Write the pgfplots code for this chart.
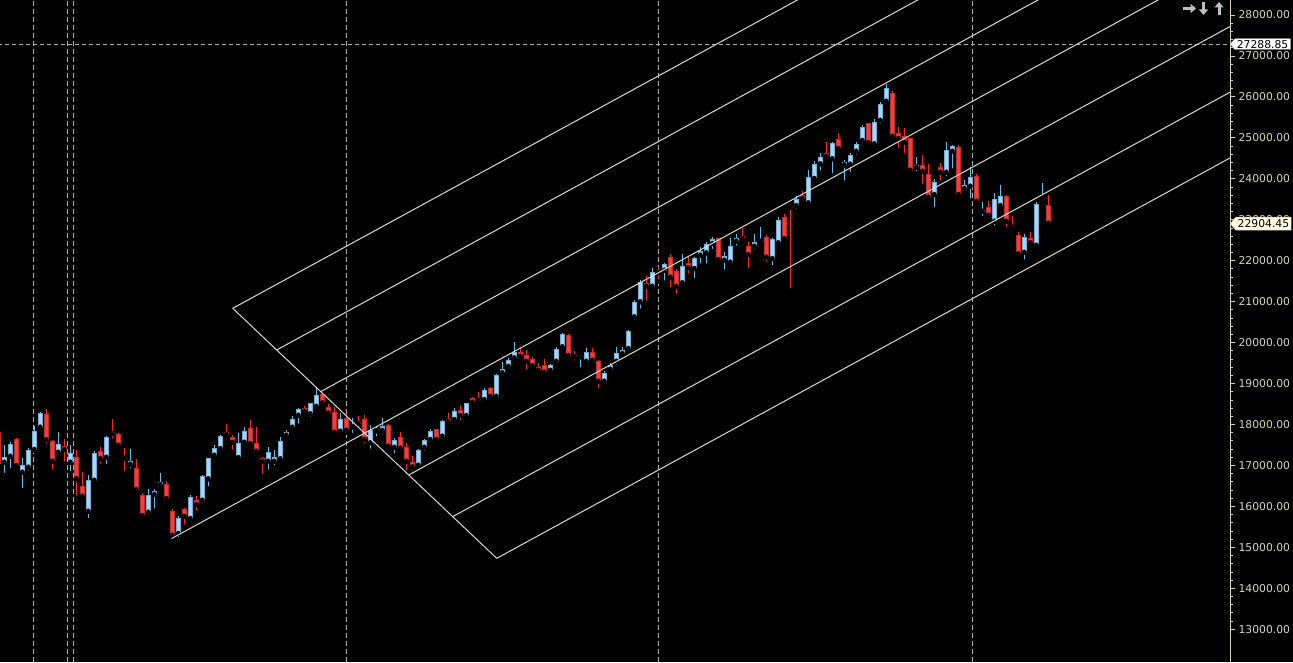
\documentclass[border=0pt]{standalone}
\usepackage{fontspec}
\setmainfont{DejaVu Sans}
\usepackage{pgfplots}
\usepackage{pgfplotstable}
\pgfplotsset{compat=1.18}
\usetikzlibrary{shapes.symbols,arrows.meta}
\definecolor{bullfill}{RGB}{170,214,238}
\definecolor{bulledge}{RGB}{112,172,212}
\definecolor{bullwick}{RGB}{100,190,240}
\definecolor{bearfill}{RGB}{232,66,66}
\definecolor{bearedge}{RGB}{205,40,40}
\definecolor{bearwick}{RGB}{255,40,40}
\definecolor{axiscol}{RGB}{215,213,175}
\definecolor{chan}{RGB}{218,218,208}
\definecolor{dashcol}{RGB}{175,175,175}
\definecolor{cream}{RGB}{255,255,228}
\definecolor{arrowgray}{RGB}{190,190,190}

\pgfplotstableread{
i o h l c
1 17067 17499 16766 17213
2 17213 17580 16889 17524
4 16823 17174 16400 17011
5 16945 17418 16823 17377
6 17377 17963 17360 17841
7 17922 18312 17865 18288
10 17311 17824 17255 17524
12 17067 17499 16808 17296
15 15870 16766 15668 16644
16 16627 17353 16564 17296
18 17189 17719 16986 17694
22 17018 17401 16889 17116
25 15846 16425 15734 16278
26 16278 16425 15895 16376
27 16522 16815 16425 16596
30 15326 15765 15196 15724
32 15692 16278 15651 16222
34 16139 16766 16114 16742
35 16662 17189 16442 17174
36 17238 17499 17174 17418
37 17401 17743 17360 17719
40 17182 17785 17157 17548
41 17555 17931 17482 17841
45 17091 17443 16847 17328
46 17091 17377 16955 17206
47 17150 17687 17091 17597
48 17726 17865 17621 17809
49 17922 18207 17890 18127
50 18215 18395 17970 18371
52 18249 18532 18134 18517
53 18434 18908 18354 18713
57 17824 18273 17768 18134
59 17931 18151 17743 17963
62 17541 17987 17360 17865
63 17834 17963 17663 17865
64 17848 18151 17726 17963
66 17433 17663 17255 17621
70 16994 17394 16913 17370
71 17433 17646 17311 17614
72 17621 17882 17580 17841
74 17702 18110 17604 18085
76 18110 18395 18093 18329
78 18207 18532 18190 18517
81 18598 18884 18580 18842
83 18678 19233 18654 19208
84 19250 19533 19233 19355
85 19411 19616 19348 19575
86 19616 20022 19575 19778
92 19313 19477 19208 19445
93 19533 19885 19436 19843
94 19885 20227 19868 20202
97 19641 19714 19348 19672
98 19533 19861 19509 19763
101 19045 19306 18947 19250
102 19338 19494 19313 19445
103 19533 19885 19411 19738
104 19721 19885 19655 19819
105 19843 20307 19802 20283
106 20618 21040 20510 20984
107 20984 21528 20779 21472
109 21365 21814 21340 21731
111 21756 21951 21463 21919
114 21448 22163 21431 21870
116 21797 22097 21528 22058
117 22122 22327 21878 22237
118 22180 22449 21878 22400
119 22408 22586 22237 22530
121 22000 22205 21731 22114
122 21951 22547 21936 22359
123 22464 22652 22317 22547
126 22342 22644 22220 22449
127 22464 22815 22359 22505
129 22041 22547 21839 22530
130 22425 23059 22408 22994
133 23335 23580 23221 23506
135 23401 24215 23367 24036
136 23995 24434 23970 24354
137 24354 24622 24149 24525
139 24476 24891 24092 24867
141 24329 24459 23904 24410
142 24344 24622 24117 24574
143 24662 24898 24539 24842
144 24923 25313 24867 25257
146 24842 25453 24759 25379
147 25418 25868 25296 25819
148 25882 26315 25843 26210
153 24271 24525 24134 24337
156 23604 23995 23262 23929
158 24149 24898 24012 24703
159 24662 24825 24198 24801
161 23751 23970 23646 23848
162 23807 24281 23465 24036
164 23196 23433 23042 23238
166 22952 23646 22806 23506
167 23335 23848 23238 23580
171 22195 22644 21975 22571
173 22366 23440 22350 23384
174 23523 23904 23416 23555
}\bull

\pgfplotstableread{
i o h l c
0 17824 17890 16995 17035
3 17646 17660 16955 16986
8 18256 18378 17482 17621
9 17597 17621 16847 17091
11 17475 17646 17052 17377
13 17206 17377 16222 16662
14 16498 16847 16139 16237
17 17353 17458 16986 17150
19 17817 18134 17604 17768
20 17768 17800 17443 17482
21 17206 17426 16823 17165
23 16937 17157 16344 16400
24 16278 16320 15709 15765
28 16547 16627 16156 16180
29 15887 15929 15228 15284
31 15929 15950 15504 15748
33 16156 16254 15846 16034
38 17817 18012 17702 17743
39 17687 17743 17335 17555
42 17907 18110 17499 17524
43 17548 17939 17279 17335
44 17182 17199 16742 17091
51 18395 18451 18207 18312
54 18745 18776 18410 18517
55 18420 18500 18190 18268
56 18298 18434 17768 17799
58 18151 18256 17800 17848
60 18053 18207 17882 18012
61 18127 18224 17482 17621
65 17987 18012 17433 17458
67 17694 17809 17335 17409
68 17443 17541 16823 17091
69 17077 17230 16823 16955
73 17882 17890 17555 17621
75 18134 18273 18044 18061
77 18354 18476 18061 18207
79 18654 18678 18451 18532
80 18622 18786 18532 18574
82 18884 18923 18664 18678
87 19770 19861 19558 19655
88 19697 19819 19289 19533
89 19599 19655 19397 19428
90 19411 19494 19265 19313
91 19453 19592 19233 19265
95 20185 20210 19655 19672
96 19690 19787 19509 19641
99 19763 19861 19509 19558
100 19550 19575 18842 19045
108 21463 21626 20974 21365
110 21731 21853 21487 21692
112 22083 22163 21301 21585
113 21748 21790 21145 21365
115 21936 22097 21633 21814
120 22547 22561 21919 22017
124 22603 22806 22505 22530
125 22359 22456 21773 22139
128 22571 22627 21936 22073
131 23059 23140 22425 22530
132 23343 23360 21284 23294
134 23604 23702 23416 23506
138 24622 24898 24515 24539
140 24964 25111 24703 24727
145 25355 25370 24808 24867
149 26088 26151 24989 25028
150 25111 25257 24703 24972
151 25052 25233 24581 24881
152 24989 25003 24092 24198
154 24329 24581 23824 24173
155 24110 24361 23482 23538
157 24281 24378 23904 24149
160 24769 24825 23548 23604
163 24068 24117 23360 23440
165 23304 23465 22994 23099
168 23580 23604 22774 22952
169 22854 23091 22708 22806
170 22627 22708 22122 22156
172 22554 22693 22317 22425
175 23353 23604 22871 22904.45
}\bear

\begin{document}
\begin{tikzpicture}
\fill[black] (0pt,0pt) rectangle (1293pt,662pt);
\begin{axis}[
  at={(0pt,0pt)}, anchor=south west,
  scale only axis, width=1230pt, height=662pt,
  xmin=0.283, xmax=205.28, ymin=12200, ymax=28366,
  axis x line=none, axis y line*=right,
  axis line style={draw=axiscol, line width=0.8pt, -},
  clip mode=individual,
  xtick=\empty,
  ytick={13000,14000,...,28000},
  scaled y ticks=false,
  minor y tick num=4,
  tick align=outside,
  major tick length=5pt, minor tick length=3pt,
  tick style={draw=axiscol, line width=0.8pt},
  /pgf/number format/assume math mode=true,
  yticklabel style={text=axiscol, font=\fontsize{10.8}{12}\selectfont},
  yticklabel={\pgfmathprintnumber[fixed, fixed zerofill, precision=2, 1000 sep={}]{\tick}},
]
% dashed grid lines
\addplot[dashcol, line width=0.8pt, dash pattern=on 5pt off 3pt] coordinates {(5.83,12000) (5.83,29000)};
\addplot[dashcol, line width=0.8pt, dash pattern=on 5pt off 3pt] coordinates {(11.57,12000) (11.57,29000)};
\addplot[dashcol, line width=0.8pt, dash pattern=on 5pt off 3pt] coordinates {(12.5,12000) (12.5,29000)};
\addplot[dashcol, line width=0.8pt, dash pattern=on 5pt off 3pt] coordinates {(58,12000) (58,29000)};
\addplot[dashcol, line width=0.8pt, dash pattern=on 5pt off 3pt] coordinates {(110,12000) (110,29000)};
\addplot[dashcol, line width=0.8pt, dash pattern=on 5pt off 3pt] coordinates {(162.33,12000) (162.33,29000)};
\addplot[dashcol, line width=0.8pt, dash pattern=on 4pt off 3pt] coordinates {(0,27288.85) (206,27288.85)};

% wicks
\addplot[only marks, mark=none, error bars/.cd, y dir=plus, y explicit, error mark=none,
  error bar style={draw=bullwick, line width=1pt}]
  table[x=i, y=l, y error plus expr=\thisrow{h}-\thisrow{l}] {\bull};
\addplot[only marks, mark=none, error bars/.cd, y dir=plus, y explicit, error mark=none,
  error bar style={draw=bearwick, line width=1pt}]
  table[x=i, y=l, y error plus expr=\thisrow{h}-\thisrow{l}] {\bear};
% bodies (edge)
\addplot[only marks, mark=none, error bars/.cd, y dir=plus, y explicit, error mark=none,
  error bar style={draw=bulledge, line width=5.3pt}]
  table[x=i, y=o, y error plus expr={max(\thisrow{c}-\thisrow{o},30)}] {\bull};
\addplot[only marks, mark=none, error bars/.cd, y dir=plus, y explicit, error mark=none,
  error bar style={draw=bearedge, line width=5.3pt}]
  table[x=i, y=c, y error plus expr={max(\thisrow{o}-\thisrow{c},30)}] {\bear};
% bodies (fill)
\addplot[only marks, mark=none, error bars/.cd, y dir=plus, y explicit, error mark=none,
  error bar style={draw=bullfill, line width=3.5pt}]
  table[x=i, y expr=\thisrow{o}+24, y error plus expr={max(\thisrow{c}-\thisrow{o}-48,0)}] {\bull};
\addplot[only marks, mark=none, error bars/.cd, y dir=plus, y explicit, error mark=none,
  error bar style={draw=bearfill, line width=3.5pt}]
  table[x=i, y expr=\thisrow{c}+24, y error plus expr={max(\thisrow{o}-\thisrow{c}-48,0)}] {\bear};

% channel lines
\addplot[chan, line width=1pt] coordinates {(39.07,20837) (83.07,14732)};
\addplot[chan, line width=1pt] coordinates {(39.07,20837) (206,34191)};
\addplot[chan, line width=1pt] coordinates {(46.40,19820) (206,32588)};
\addplot[chan, line width=1pt] coordinates {(53.73,18802) (206,30984)};
\addplot[chan, line width=1pt] coordinates {(28.9,15216) (206,29384)};
\addplot[chan, line width=1pt] coordinates {(68.40,16767) (206,27775)};
\addplot[chan, line width=1pt] coordinates {(75.73,15750) (206,26172)};
\addplot[chan, line width=1pt] coordinates {(83.07,14732) (206,24566)};

% price labels
\node[signal, signal to=west, signal pointer angle=100, fill=white, draw=gray!60,
  text=black, inner xsep=2pt, inner ysep=1.3pt, font=\fontsize{10.8}{12}\selectfont, anchor=west]
  at (axis cs:205.28,27288.85) {27288.85};
\node[signal, signal to=west, signal pointer angle=100, fill=cream, draw=gray!60,
  text=black, inner xsep=2pt, inner ysep=2.4pt, font=\fontsize{10.8}{12}\selectfont, anchor=west]
  at (axis cs:205.28,22904.45) {22904.45};
\end{axis}
% navigation icons
\draw[arrowgray, line width=3pt, -{Triangle[width=9pt,length=5.5pt]}] (1183pt,653.5pt) -- (1196pt,653.5pt);
\draw[arrowgray, line width=3pt, -{Triangle[width=9pt,length=5.5pt]}] (1203.5pt,660pt) -- (1203.5pt,647pt);
\draw[arrowgray, line width=3pt, -{Triangle[width=9pt,length=5.5pt]}] (1219pt,647pt) -- (1219pt,660pt);
\pgfresetboundingbox
\useasboundingbox (0pt,0pt) rectangle (1293pt,662pt);
\end{tikzpicture}
\end{document}
